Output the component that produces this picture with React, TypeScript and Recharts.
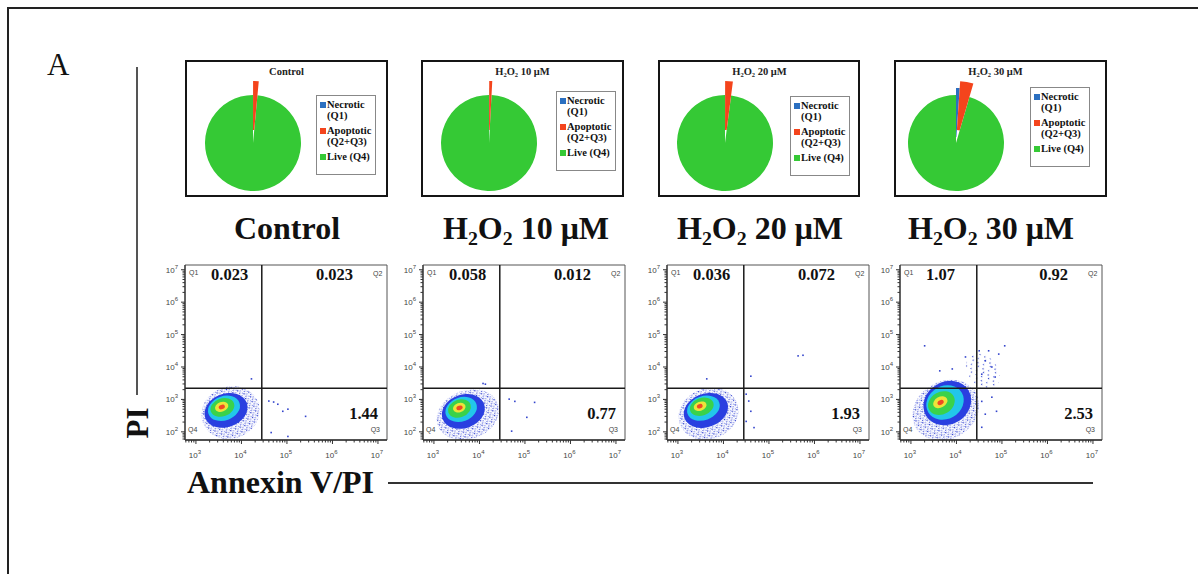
import React from 'react';
import {
  PieChart,
  Pie,
  Cell,
  Legend,
  ScatterChart,
  Scatter,
  XAxis,
  YAxis,
  ReferenceArea,
  ReferenceLine,
} from 'recharts';

// ---- data ----
const sampleNames = ['Control', 'H2O2 10 μM', 'H2O2 20 μM', 'H2O2 30 μM'];
const q1Values = [0.023, 0.058, 0.036, 1.07];
const q2Values = [0.023, 0.012, 0.072, 0.92];
const q3Values = [1.44, 0.77, 1.93, 2.53];
const pieLabels = ['Necrotic', '(Q1)', 'Apoptotic', '(Q2+Q3)', 'Live (Q4)'];

const xMajorTicks = [1e3, 1e4, 1e5, 1e6, 1e7];
const yMajorTicks = [1e2, 1e3, 1e4, 1e5, 1e6, 1e7];
const minorSteps = [2, 3, 4, 5, 6, 7, 8, 9];

const X_GATE = 28000;
const Y_GATE = 2200;

// density contours per sample: [x1, x2, y1, y2], outer halo first
const controlCloud = [
  [1300, 25500, 62, 2500],
  [1500, 14000, 140, 1500],
  [1800, 9500, 225, 1260],
  [2050, 7100, 300, 1070],
  [2600, 5200, 420, 830],
  [3150, 4350, 500, 680],
];
const h10Cloud = [
  [1100, 28000, 60, 1900],
  [1450, 13500, 130, 1400],
  [1750, 9000, 210, 1150],
  [2000, 6600, 280, 980],
  [2600, 5000, 400, 780],
  [3100, 4300, 470, 640],
];
const h20Cloud = [
  [1000, 22000, 60, 2200],
  [1300, 13000, 140, 1500],
  [1550, 8500, 230, 1250],
  [1800, 6200, 320, 1100],
  [2200, 4300, 450, 850],
  [2600, 3500, 530, 720],
];
const h30Cloud = [
  [1000, 34000, 60, 3600],
  [1800, 22000, 170, 3500],
  [2100, 15000, 250, 2600],
  [2300, 9500, 350, 1700],
  [3000, 6500, 560, 1200],
  [3800, 5300, 680, 950],
];
const h30Spread = [[18000, 80000, 1800, 30000]];

// sparse single events
const controlEvents = [
  [40000, 890], [51000, 830], [63000, 710], [81000, 430], [105000, 500],
  [257000, 300], [45000, 95], [105000, 72], [16600, 4300],
];
const h10Events = [
  [45000, 1020], [60000, 870], [163000, 810], [110000, 280], [51000, 105],
  [13500, 2950], [12000, 3100],
];
const h20Events = [
  [31600, 1450], [36000, 890], [40000, 430], [31600, 210], [47000, 135],
  [437000, 22000], [560000, 23000], [40000, 5200], [4300, 4300],
];
const h30Events = [
  [31600, 31600], [51000, 31600], [85000, 25000], [115000, 45000], [43000, 15500],
  [60000, 10000], [36000, 6000], [71000, 4900], [2000, 45000], [4300, 7600],
  [8100, 8700], [15800, 20400], [36000, 870], [60000, 1170], [43000, 350],
  [36000, 138], [76000, 430],
];

const clouds = [controlCloud, h10Cloud, h20Cloud, h30Cloud];
const eventSets = [controlEvents, h10Events, h20Events, h30Events];

// ---- layout / style ----
const SERIF = '"Liberation Serif", "Times New Roman", serif';
const SANS = '"Liberation Sans", Arial, sans-serif';
const pieColors = ['#2b6fc0', '#f4441c', '#35c935'];
const blobColors = ['', '#2a3fe0', '#22c6ea', '#3ad24a', '#ece43a', '#ee4a24'];
const tilts = [-20, -20, -20, -30];

const pieLefts = [185, 421, 658, 894];
const pieWidths = [203, 203, 202, 213];
const pieCx = [66, 66, 65, 60];
const legendLefts = [129, 133, 130, 134];
const legendTops = [33, 29, 34, 25];
const headingCenters = [287, 526, 760, 991];
const plotLefts = [185, 423, 667, 900];

const X_DOMAIN: [number, number] = [575, 1.58e7];
const Y_DOMAIN: [number, number] = [56, 1.4e7];

const xTickValues = [...xMajorTicks, ...[1e2, 1e3, 1e4, 1e5, 1e6].flatMap((d) => minorSteps.map((m) => m * d))]
  .filter((v) => v >= X_DOMAIN[0] && v <= X_DOMAIN[1])
  .sort((a, b) => a - b);
const yTickValues = [...yMajorTicks, ...[1e1, 1e2, 1e3, 1e4, 1e5, 1e6].flatMap((d) => minorSteps.map((m) => m * d))]
  .filter((v) => v >= Y_DOMAIN[0] && v <= Y_DOMAIN[1])
  .sort((a, b) => a - b);

function renderName(name: string) {
  if (!name.startsWith('H2O2')) return name;
  const sub = { fontSize: '0.62em', position: 'relative' as const, top: '0.28em' };
  return (
    <>
      H<span style={sub}>2</span>O<span style={sub}>2</span>
      {name.slice(4)}
    </>
  );
}

function PieLegend() {
  const marker = (c: string) => (
    <span style={{ position: 'absolute', left: 3, top: 3, width: 6, height: 6, background: c }} />
  );
  const item = (c: string, lines: string[]) => (
    <div style={{ position: 'relative', paddingLeft: 10, marginBottom: 4 }}>
      {marker(c)}
      {lines.map((l) => (
        <div key={l}>{l}</div>
      ))}
    </div>
  );
  return (
    <div
      style={{
        width: 60,
        height: 80,
        boxSizing: 'border-box',
        border: '1px solid #888',
        background: '#fff',
        fontFamily: SERIF,
        fontWeight: 'bold',
        fontSize: 10.5,
        lineHeight: '11px',
        color: '#111',
        paddingTop: 3,
        whiteSpace: 'nowrap',
      }}
    >
      {item(pieColors[0], [pieLabels[0], pieLabels[1]])}
      {item(pieColors[1], [pieLabels[2], pieLabels[3]])}
      {item(pieColors[2], [pieLabels[4]])}
    </div>
  );
}

function PiePanel({ i }: { i: number }) {
  const w = pieWidths[i];
  const data = [
    { name: 'Necrotic', value: q1Values[i] },
    { name: 'Apoptotic', value: q2Values[i] + q3Values[i] },
    { name: 'Live', value: 100 - q1Values[i] - q2Values[i] - q3Values[i] },
  ];
  const layer = (show: number, inner: number, outer: number) => (
    <Pie
      data={data}
      dataKey="value"
      cx={pieCx[i]}
      cy={81}
      innerRadius={inner}
      outerRadius={outer}
      startAngle={90}
      endAngle={-270}
      stroke="none"
      isAnimationActive={false}
    >
      {data.map((d, k) => (
        <Cell key={d.name} fill={k === show ? pieColors[k] : 'transparent'} />
      ))}
    </Pie>
  );
  return (
    <div
      style={{
        position: 'absolute',
        left: pieLefts[i],
        top: 60,
        width: w,
        height: 137,
        border: '2px solid #151515',
        boxSizing: 'border-box',
        background: '#fff',
      }}
    >
      <div
        style={{
          position: 'absolute',
          left: 0,
          top: 4,
          width: 199,
          textAlign: 'center',
          fontSize: 10.5,
          lineHeight: '12px',
          fontWeight: 'bold',
          fontFamily: SERIF,
          color: '#222',
          zIndex: 2,
          whiteSpace: 'nowrap',
        }}
      >
        {renderName(sampleNames[i])}
      </div>
      <PieChart width={w - 4} height={133} margin={{ top: 0, right: 0, bottom: 0, left: 0 }}>
        {layer(2, 0, 48)}
        {layer(0, 6, 55)}
        {layer(1, 13, 62)}
        <Legend
          content={() => <PieLegend />}
          layout="vertical"
          align="right"
          verticalAlign="top"
          wrapperStyle={{ left: legendLefts[i], top: legendTops[i], width: 60 }}
        />
      </PieChart>
    </div>
  );
}

function XTick({ x, y, payload }: any) {
  const v = payload.value;
  const major = xMajorTicks.includes(v);
  return (
    <g>
      <line x1={x} x2={x} y1={y} y2={y + (major ? 4 : 2.5)} stroke="#333" strokeWidth={1} />
      {major && (
        <text x={x - 1} y={y + 18} textAnchor="middle" fontSize={8} fill="#444" fontFamily={SANS}>
          10
          <tspan dy={-4} fontSize={6}>
            {Math.round(Math.log10(v))}
          </tspan>
        </text>
      )}
    </g>
  );
}

function YTick({ x, y, payload }: any) {
  const v = payload.value;
  const major = yMajorTicks.includes(v);
  return (
    <g>
      <line x1={x - (major ? 4 : 2.5)} x2={x} y1={y} y2={y} stroke="#333" strokeWidth={1} />
      {major && (
        <text x={x - 7} y={y + 3} textAnchor="end" fontSize={8} fill="#444" fontFamily={SANS}>
          10
          <tspan dy={-4} fontSize={6}>
            {Math.round(Math.log10(v))}
          </tspan>
        </text>
      )}
    </g>
  );
}

function Blob(props: any) {
  const { x, y, width, height, level, tilt, pid, sparse } = props;
  const cx = x + width / 2;
  const cy = y + height / 2;
  const rx = Math.abs(width) / 2;
  const ry = Math.abs(height) / 2;
  const rot = `rotate(${tilt} ${cx} ${cy})`;
  if (level === 0) {
    return (
      <g>
        <defs>
          {sparse ? (
            <pattern id={pid} width={9} height={8} patternUnits="userSpaceOnUse">
              <rect x={1} y={1} width={1.2} height={1.2} fill="#3344cc" />
              <rect x={6} y={3} width={1.2} height={1.2} fill="#5566dd" />
              <rect x={3} y={6} width={1.2} height={1.2} fill="#3344cc" />
            </pattern>
          ) : (
            <pattern id={pid} width={5} height={5} patternUnits="userSpaceOnUse">
              <rect x={0} y={0} width={1.3} height={1.3} fill="#2233cc" />
              <rect x={2.5} y={1.2} width={1.1} height={1.1} fill="#4455dd" />
              <rect x={1.2} y={3} width={1.1} height={1.1} fill="#2a3ad0" />
              <rect x={3.8} y={3.8} width={1.1} height={1.1} fill="#6677e6" />
            </pattern>
          )}
        </defs>
        <ellipse cx={cx} cy={cy} rx={rx} ry={ry} fill={`url(#${pid})`} transform={rot} />
      </g>
    );
  }
  return <ellipse cx={cx} cy={cy} rx={rx} ry={ry} fill={blobColors[level]} transform={rot} />;
}

function QuadLabels({ viewBox, i }: any) {
  const { x, y, width, height } = viewBox;
  const right = x + width;
  const bottom = y + height;
  const small = { fontSize: 7, fill: '#444', fontFamily: SANS };
  const big = { fontSize: 16.5, fill: '#111', fontFamily: SERIF, fontWeight: 'bold' as const };
  return (
    <g>
      <text x={x + 4} y={y + 10} {...small}>Q1</text>
      <text x={x + 26} y={y + 15} {...big}>{String(q1Values[i])}</text>
      <text x={right - 14} y={y + 11} {...small}>Q2</text>
      <text x={right - 34} y={y + 15} textAnchor="end" {...big}>{String(q2Values[i])}</text>
      <text x={right - 9} y={bottom - 21} textAnchor="end" {...big}>{String(q3Values[i])}</text>
      <text x={right - 7} y={bottom - 8} textAnchor="end" {...small}>Q3</text>
      <text x={x + 3} y={bottom - 8} {...small}>Q4</text>
    </g>
  );
}

function FlowPlot({ i }: { i: number }) {
  const cloud = clouds[i];
  const events = eventSets[i].map(([x, y]) => ({ x, y }));
  return (
    <div style={{ position: 'absolute', left: plotLefts[i] - 36, top: 259 }}>
      <ScatterChart width={242} height={207} margin={{ top: 6, right: 4, bottom: 0, left: 0 }}>
        <XAxis
          type="number"
          dataKey="x"
          scale="log"
          domain={X_DOMAIN}
          allowDataOverflow
          ticks={xTickValues}
          interval={0}
          tick={(p: any) => <XTick {...p} />}
          tickLine={false}
          tickSize={0}
          tickMargin={0}
          axisLine={{ stroke: '#333', strokeWidth: 1.5 }}
          height={26}
        />
        <YAxis
          type="number"
          dataKey="y"
          scale="log"
          domain={Y_DOMAIN}
          allowDataOverflow
          ticks={yTickValues}
          interval={0}
          tick={(p: any) => <YTick {...p} />}
          tickLine={false}
          tickSize={0}
          tickMargin={0}
          axisLine={{ stroke: '#333', strokeWidth: 1.2 }}
          width={36}
        />
        {i === 3 &&
          h30Spread.map(([x1, x2, y1, y2], k) => (
            <ReferenceArea
              key={`s${k}`}
              x1={x1}
              x2={x2}
              y1={y1}
              y2={y2}
              shape={(p: any) => <Blob {...p} level={0} tilt={-40} pid={`spread${i}`} sparse />}
            />
          ))}
        {cloud.map(([x1, x2, y1, y2], k) => (
          <ReferenceArea
            key={k}
            x1={x1}
            x2={x2}
            y1={y1}
            y2={y2}
            shape={(p: any) => <Blob {...p} level={k} tilt={tilts[i]} pid={`spk${i}`} />}
          />
        ))}
        <Scatter
          data={events}
          isAnimationActive={false}
          shape={(p: any) => <rect x={p.cx - 0.8} y={p.cy - 0.8} width={1.6} height={1.6} fill="#3344cc" />}
        />
        <ReferenceLine x={X_GATE} stroke="#1a1a1a" strokeWidth={1.5} />
        <ReferenceLine y={Y_GATE} stroke="#1a1a1a" strokeWidth={1.5} />
        <ReferenceArea
          x1={X_DOMAIN[0]}
          x2={X_DOMAIN[1]}
          y1={Y_DOMAIN[0]}
          y2={Y_DOMAIN[1]}
          fill="none"
          stroke="#555"
          strokeWidth={1}
          label={(p: any) => <QuadLabels viewBox={p.viewBox} i={i} />}
        />
      </ScatterChart>
    </div>
  );
}

export default function App() {
  return (
    <div
      style={{
        position: 'absolute',
        left: 0,
        top: 0,
        width: 1198,
        height: 574,
        background: '#fff',
        fontFamily: SERIF,
        overflow: 'hidden',
        color: '#111',
      }}
    >
      <div
        style={{
          position: 'absolute',
          left: 7,
          top: 7,
          width: 1300,
          height: 700,
          borderTop: '2px solid #222',
          borderLeft: '2px solid #222',
        }}
      />
      <div style={{ position: 'absolute', left: 47, top: 49, fontSize: 31, lineHeight: '31px' }}>A</div>
      <div style={{ position: 'absolute', left: 136, top: 67, width: 1.5, height: 328, background: '#555' }} />
      <div
        style={{
          position: 'absolute',
          left: 137,
          top: 423,
          transform: 'translate(-50%, -50%) rotate(-90deg)',
          fontSize: 31,
          lineHeight: '31px',
          fontWeight: 'bold',
          whiteSpace: 'nowrap',
        }}
      >
        PI
      </div>
      <div style={{ position: 'absolute', left: 388, top: 482, width: 705, height: 1.5, background: '#333' }} />
      <div
        style={{
          position: 'absolute',
          left: 187,
          top: 466,
          fontSize: 32,
          lineHeight: '32px',
          fontWeight: 'bold',
          whiteSpace: 'nowrap',
        }}
      >
        Annexin V/PI
      </div>
      {sampleNames.map((n, i) => (
        <PiePanel key={n} i={i} />
      ))}
      {sampleNames.map((n, i) => (
        <div
          key={`h${n}`}
          style={{
            position: 'absolute',
            left: headingCenters[i] - 130,
            top: 212,
            width: 260,
            textAlign: 'center',
            fontSize: 32,
            lineHeight: '32px',
            fontWeight: 'bold',
            whiteSpace: 'nowrap',
          }}
        >
          {renderName(n)}
        </div>
      ))}
      {sampleNames.map((n, i) => (
        <FlowPlot key={`f${n}`} i={i} />
      ))}
    </div>
  );
}
